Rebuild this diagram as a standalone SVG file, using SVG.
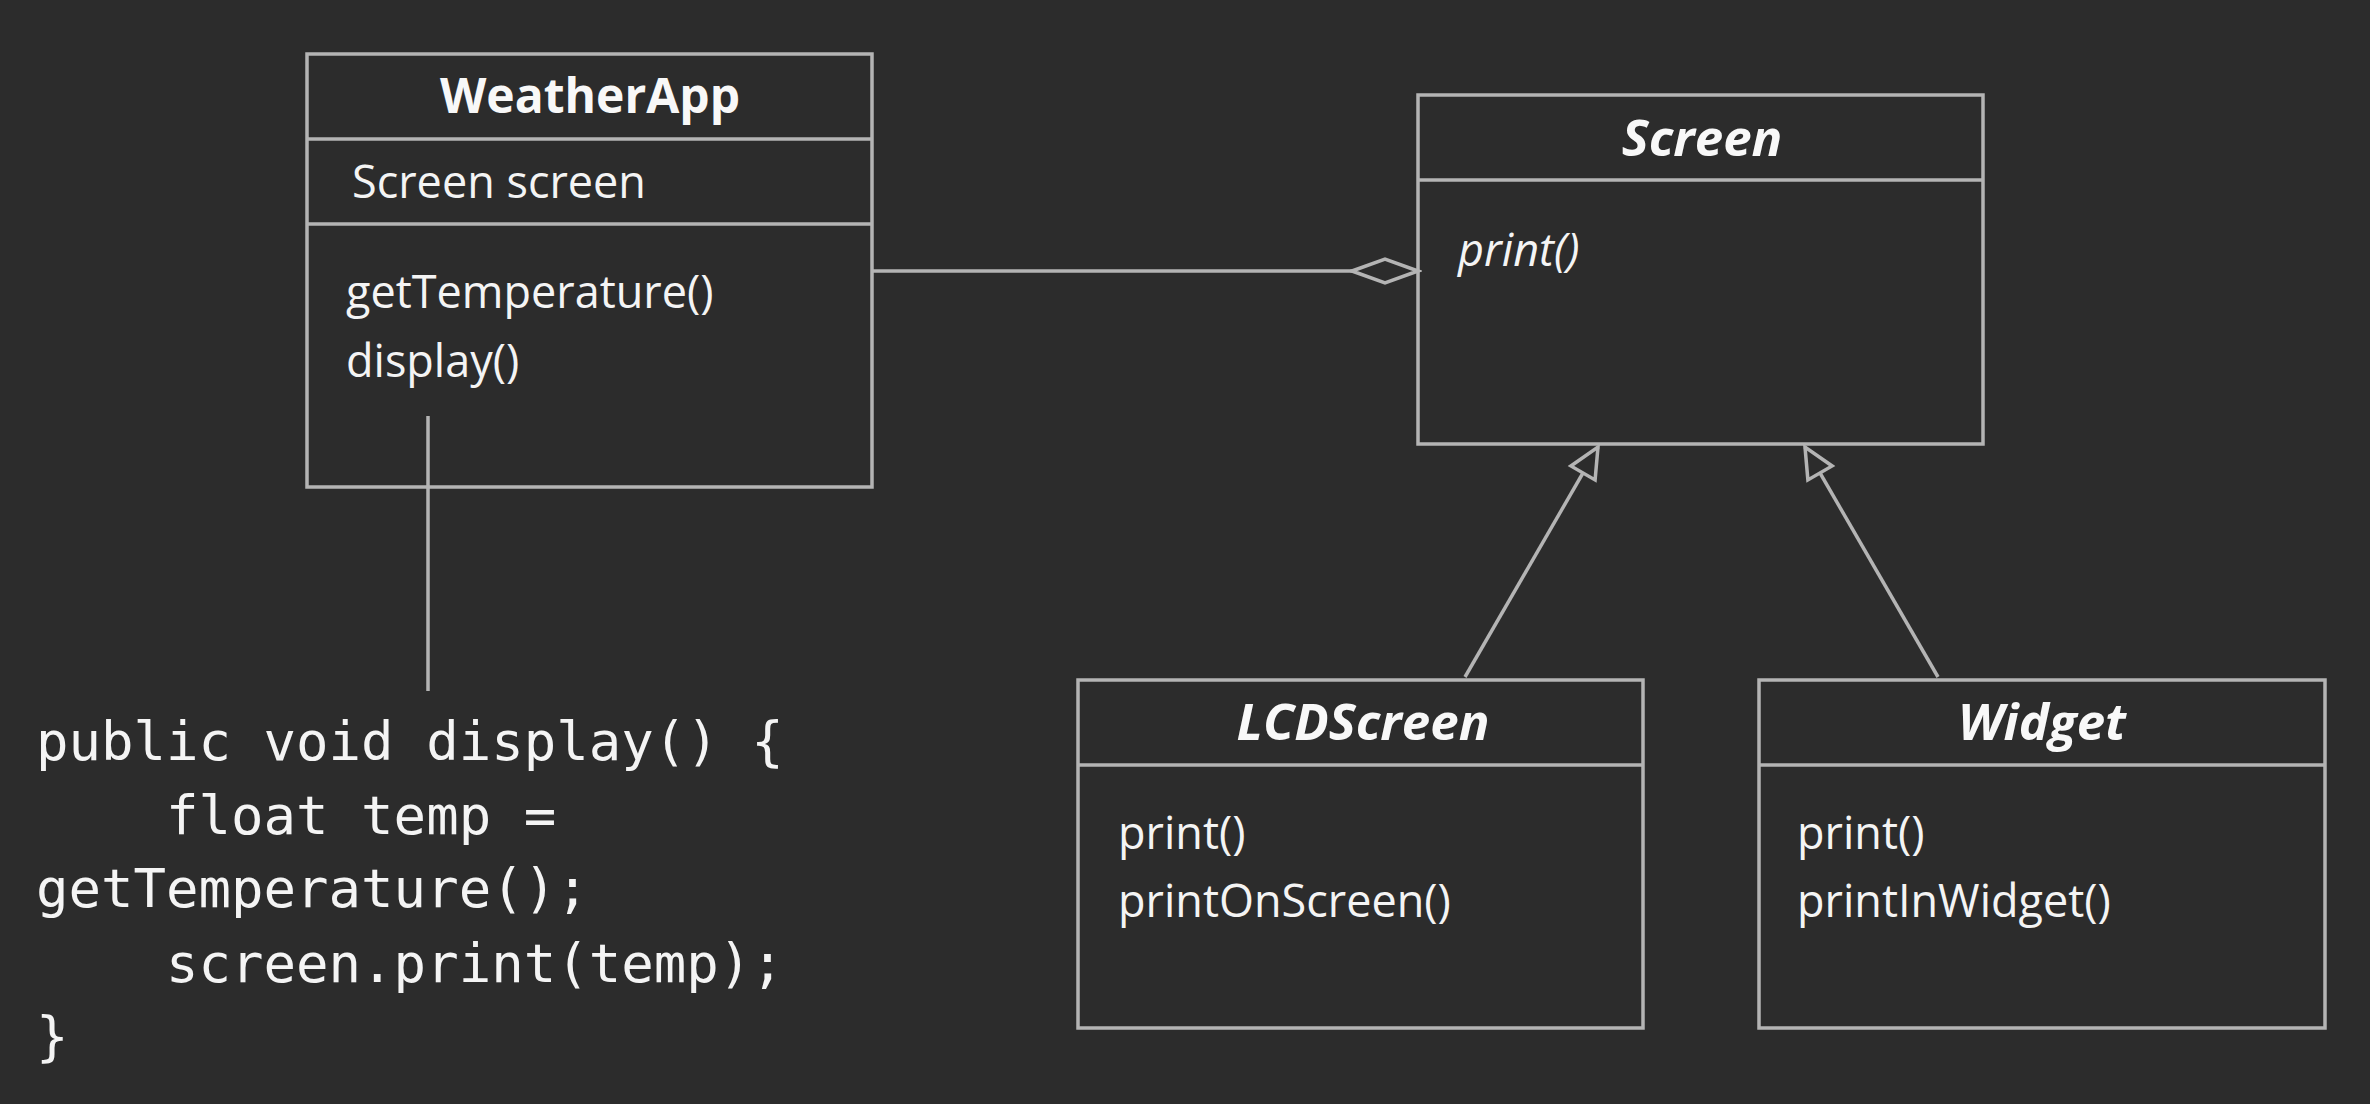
<svg xmlns="http://www.w3.org/2000/svg" width="2370" height="1104" viewBox="0 0 2370 1104">
<defs>
<style>
.box{fill:#2c2c2c;stroke:#b4b4b4;stroke-width:3.5}
.div{stroke:#b4b4b4;stroke-width:3.5}
.conn{stroke:#b4b4b4;stroke-width:3.5;fill:none}
.t{font-family:"Open Sans","Liberation Sans",sans-serif;fill:#f4f4f4;font-size:45px}
.title{font-family:"Open Sans","Liberation Sans",sans-serif;fill:#f8f8f8;font-size:48px;font-weight:bold;text-anchor:middle}
.it{font-style:italic}
.ti{font-size:51px}
.code{font-family:"DejaVu Sans Mono",monospace;fill:#f4f4f4;font-size:54px;white-space:pre}
</style>
<marker id="diamond" markerUnits="userSpaceOnUse" markerWidth="72" markerHeight="30" refX="68" refY="15" orient="auto" viewBox="0 0 72 30">
<path d="M2,15 L35,3 L68,15 L35,27 Z" fill="#2c2c2c" stroke="#b4b4b4" stroke-width="3.5"/>
</marker>
<marker id="tri" markerUnits="userSpaceOnUse" markerWidth="36" markerHeight="34" refX="33" refY="17" orient="auto" viewBox="0 0 36 34">
<path d="M3,3 L33,17 L3,31 Z" fill="#2c2c2c" stroke="#b4b4b4" stroke-width="3.5"/>
</marker>
</defs>
<rect width="2370" height="1104" fill="#2c2c2c"/>
<g id="WeatherApp">
<rect class="box" x="307" y="54" width="565" height="433"/>
<line class="div" x1="307" y1="139" x2="872" y2="139"/>
<line class="div" x1="307" y1="224" x2="872" y2="224"/>
<text class="title" x="590" y="113">WeatherApp</text>
<text class="t" x="352" y="198" font-size="48">Screen screen</text>
<text class="t" x="346" y="308">getTemperature()</text>
<text class="t" x="346" y="377">display()</text>
</g>
<g id="Screen">
<rect class="box" x="1418" y="95" width="565" height="349"/>
<line class="div" x1="1418" y1="180" x2="1983" y2="180"/>
<text class="title it ti" x="1702" y="156">Screen</text>
<text class="t it" x="1458" y="266">print()</text>
</g>
<g id="LCDScreen">
<rect class="box" x="1078" y="680" width="565" height="348"/>
<line class="div" x1="1078" y1="765" x2="1643" y2="765"/>
<text class="title it ti" x="1363" y="740">LCDScreen</text>
<text class="t" x="1118" y="849">print()</text>
<text class="t" x="1118" y="917">printOnScreen()</text>
</g>
<g id="Widget">
<rect class="box" x="1759" y="680" width="566" height="348"/>
<line class="div" x1="1759" y1="765" x2="2325" y2="765"/>
<text class="title it ti" x="2042" y="740">Widget</text>
<text class="t" x="1797" y="849">print()</text>
<text class="t" x="1797" y="917">printInWidget()</text>
</g>
<g id="code">
<text class="code" x="36" y="760">public void display() {</text>
<text class="code" x="36" y="834">    float temp =</text>
<text class="code" x="36" y="907">getTemperature();</text>
<text class="code" x="36" y="982">    screen.print(temp);</text>
<text class="code" x="36" y="1055">}</text>
</g>
<g id="connectors">
<line class="conn" x1="872" y1="271" x2="1418" y2="271" marker-end="url(#diamond)"/>
<line class="conn" x1="1465" y1="677" x2="1598" y2="447" marker-end="url(#tri)"/>
<line class="conn" x1="1938" y1="677" x2="1805" y2="447" marker-end="url(#tri)"/>
<line class="conn" x1="428" y1="416" x2="428" y2="691"/>
</g>
</svg>
